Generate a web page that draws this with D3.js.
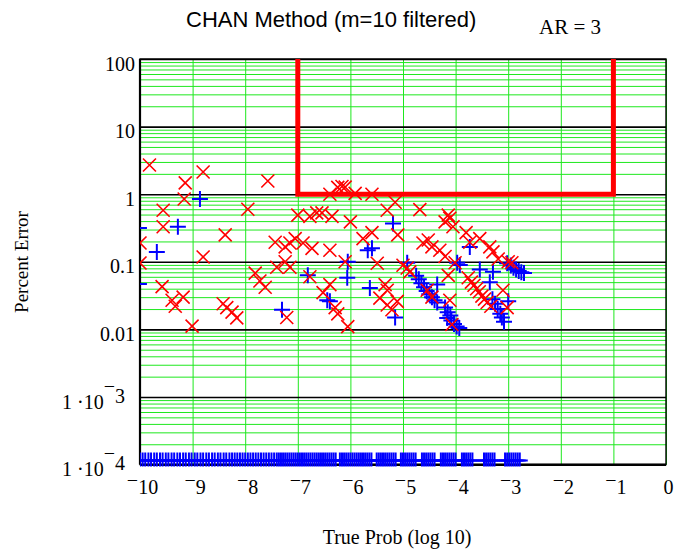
<!DOCTYPE html>
<html>
<head>
<meta charset="utf-8">
<script src="https://cdn.jsdelivr.net/npm/d3@7"></script>
<style>
  html, body { margin: 0; padding: 0; background: #fff; }
  svg { display: block; }
</style>
</head>
<body>
<div id="chart"></div>
<script>
// -------- Data --------
const xTicks = [-10, -9, -8, -7, -6, -5, -4, -3, -2, -1, 0];
const yDecades = [1e-4, 1e-3, 0.01, 0.1, 1, 10, 100];
const yTickBase = ["1 ·10", "1 ·10", "0.01", "0.1", "1", "10", "100"];
const yTickExp = ["4", "3", "", "", "", "", ""];

// red threshold box (x in log10 prob, y in percent)
const boxX = [-7, -7, -1, -1];
const boxY = [100, 1, 1, 100];

// red X markers
const redX = [
  -9.82, -8.80, -9.14, -7.57, -9.16, -9.56, -7.95, -9.56, -8.38, -10.0,
  -7.43, -8.80, -10.0, -7.40, -7.81, -7.72, -7.62, -9.58, -9.39, -9.18,
  -9.33, -9.01, -8.42, -8.35, -8.25, -8.16, -7.21,
  -6.39, -6.24, -6.16, -6.10, -5.91, -5.59, -5.15, -4.68,
  -7.00, -6.77, -6.64, -6.54, -6.35, -6.00, -5.30, -5.10, -5.59, -5.76,
  -7.05, -7.24, -7.15, -6.90, -6.73, -6.39,
  -4.62, -4.52, -4.45, -4.30, -4.14, -4.11, -4.20, -4.05, -3.80, -3.73,
  -7.24, -7.15, -6.77, -6.10, -5.49, -6.39, -6.52, -6.29, -6.24, -6.05,
  -5.34, -5.30, -5.44, -5.30, -5.21, -5.11, -5.00, -4.92, -4.87,
  -4.54, -4.45, -4.11, -4.14, -4.01, -4.07,
  -3.54, -3.35, -3.29, -3.19, -3.00, -2.93, -4.20,
  -3.76, -3.70, -3.65, -3.60, -3.55, -3.50, -3.45, -3.40, -3.33,
  -3.10, -3.02
];
const redY = [
  2.7, 2.13, 1.47, 1.57, 0.85, 0.58, 0.6, 0.33, 0.25, 0.19,
  0.195, 0.118, 0.096, 0.083, 0.068, 0.052, 0.042, 0.043, 0.027, 0.030,
  0.022, 0.0112, 0.024, 0.021, 0.018, 0.0148, 0.015,
  1.0, 1.26, 1.3, 1.27, 1.03, 1.0, 0.76, 0.59,
  0.49, 0.47, 0.53, 0.53, 0.47, 0.39, 0.58, 0.25, 0.27, 0.22,
  0.22, 0.166, 0.19, 0.19, 0.158, 0.148,
  0.19, 0.21, 0.166, 0.148, 0.49, 0.44, 0.39, 0.33, 0.27, 0.195,
  0.1, 0.083, 0.060, 0.1, 0.095, 0.046, 0.035, 0.021, 0.017, 0.011,
  0.046, 0.038, 0.029, 0.023, 0.0195, 0.026, 0.089, 0.081, 0.071,
  0.038, 0.030, 0.027, 0.063, 0.097, 0.0118,
  0.22, 0.166, 0.14, 0.11, 0.1, 0.097, 0.12,
  0.058, 0.050, 0.045, 0.040, 0.036, 0.031, 0.028, 0.025, 0.022,
  0.038, 0.021
];

// blue + markers (nonzero errors)
const blueX = [
  -8.86, -9.28, -10.02, -9.68, -10.02, -7.30, -5.19, -5.67, -5.59, -3.73,
  -6.81, -6.05, -6.06, -6.44, -6.39, -5.63, -5.15, -4.92,
  -4.75, -4.70, -4.65, -4.60, -4.55, -4.50, -4.45, -4.40, -4.35, -4.35,
  -3.97, -4.16, -4.08, -4.03, -3.98, -3.93,
  -3.02, -2.95, -2.90, -2.85, -2.80, -2.75, -2.70,
  -3.92, -3.54, -3.29, -3.35, -3.00,
  -3.30, -3.25, -3.20, -3.15, -3.12, -3.08,
  -4.20, -4.15, -4.10
];
const blueY = [
  0.85, 0.33, 0.316, 0.14, 0.047, 0.0195, 0.37, 0.148, 0.158, 0.166,
  0.063, 0.1, 0.058, 0.027, 0.026, 0.041, 0.015, 0.097,
  0.062, 0.055, 0.048, 0.042, 0.037, 0.033, 0.030, 0.027, 0.025, 0.046,
  0.097, 0.0147, 0.0135, 0.012, 0.011, 0.0105,
  0.095, 0.088, 0.082, 0.077, 0.073, 0.070, 0.068,
  0.090, 0.077, 0.071, 0.05, 0.026,
  0.028, 0.024, 0.020, 0.017, 0.015, 0.013,
  0.021, 0.018, 0.016
];

// blue + markers sitting on the floor (zero error shown at the bottom)
const floorY = 1.15e-4;
const floorX = [
  -10.00, -9.95, -9.90, -9.84, -9.79, -9.73, -9.68, -9.62, -9.57, -9.51,
  -9.46, -9.40, -9.35, -9.29, -9.24, -9.18, -9.13, -9.07, -9.02, -8.96,
  -8.91, -8.85, -8.80, -8.74, -8.69, -8.63, -8.58, -8.52, -8.47, -8.41,
  -8.36, -8.30, -8.25, -8.20, -8.15, -8.10, -8.05, -8.00, -7.95, -7.90,
  -7.85, -7.80, -7.75, -7.70, -7.65, -7.60, -7.55, -7.50, -7.45, -7.40,
  -7.36, -7.32, -7.28, -7.24, -7.20, -7.16, -7.12, -7.08, -7.04, -7.00,
  -6.96, -6.92, -6.88, -6.84, -6.80, -6.76, -6.72, -6.68, -6.64, -6.60,
  -6.56, -6.52, -6.48, -6.44, -6.40, -6.36, -6.32, -6.28, -6.20, -6.16,
  -6.12, -6.08, -6.04, -6.00, -5.96, -5.92, -5.88, -5.84, -5.80, -5.76,
  -5.72, -5.68, -5.64, -5.60, -5.50, -5.46, -5.42, -5.38, -5.34, -5.30,
  -5.26, -5.22, -5.18, -5.14, -5.04, -5.00, -4.96, -4.92, -4.88, -4.84,
  -4.80, -4.76, -4.64, -4.60, -4.56, -4.52, -4.48, -4.44, -4.40, -4.28,
  -4.24, -4.20, -4.16, -4.12, -4.08, -4.04, -4.00, -3.88, -3.84, -3.80,
  -3.76, -3.72, -3.68, -3.46, -3.42, -3.38, -3.34, -3.30, -3.26, -3.06,
  -3.02, -2.98, -2.94, -2.90, -2.86, -2.82, -2.78
];

// -------- Layout --------
const W = 676, H = 550;
const margin = { top: 59, right: 10, bottom: 85, left: 140 };
const width = 526;
const height = 405.6;

const svg = d3.select("#chart").append("svg")
  .attr("width", W)
  .attr("height", H)
  .style("background", "#fff");

const g = svg.append("g")
  .attr("transform", `translate(${margin.left},${margin.top})`);

const x = d3.scaleLinear().domain([-10, 0]).range([0, width]);
const y = d3.scaleLog().domain([1e-4, 100]).range([height, 0]);

// minor log ticks (2..9 in each decade)
const minorTicks = [];
yDecades.slice(0, -1).forEach(d => {
  [2, 3, 4, 5, 6, 7, 8, 9].forEach(k => minorTicks.push(d * k));
});

// -------- Grid --------
g.append("g")
  .attr("class", "minor-grid")
  .call(d3.axisLeft(y).tickValues(minorTicks).tickSize(-width).tickFormat(""))
  .call(s => s.select(".domain").remove())
  .call(s => s.selectAll("line").attr("stroke", "#1ee81e").attr("stroke-width", 1));

g.append("g")
  .attr("class", "x-grid")
  .attr("transform", `translate(0,${height})`)
  .call(d3.axisBottom(x).tickValues(xTicks).tickSize(-height).tickFormat(""))
  .call(s => s.select(".domain").remove())
  .call(s => s.selectAll("line").attr("stroke", "#1ee81e").attr("stroke-width", 1));

g.append("g")
  .attr("class", "major-grid")
  .call(d3.axisLeft(y).tickValues(yDecades).tickSize(-width).tickFormat(""))
  .call(s => s.select(".domain").remove())
  .call(s => s.selectAll("line").attr("stroke", "#000").attr("stroke-width", 1.6));

// frame
g.append("rect")
  .attr("x", 0).attr("y", 0)
  .attr("width", width).attr("height", height)
  .attr("fill", "none")
  .attr("stroke", "#000")
  .attr("stroke-width", 1.4);
g.append("line")
  .attr("x1", 0).attr("x2", 0).attr("y1", 0).attr("y2", height)
  .attr("stroke", "#000").attr("stroke-width", 2.2);
g.append("line")
  .attr("x1", 0).attr("x2", width).attr("y1", height).attr("y2", height)
  .attr("stroke", "#000").attr("stroke-width", 2.2);

// -------- Marks --------
svg.append("clipPath").attr("id", "plotClip")
  .append("rect")
  .attr("x", 0).attr("y", -2)
  .attr("width", width + 1).attr("height", height + 4);

const marks = g.append("g").attr("clip-path", "url(#plotClip)");

const plusPath = (cx, cy, s) => `M${cx - s},${cy}H${cx + s}M${cx},${cy - s}V${cy + s}`;
const xPath = (cx, cy, s) => `M${cx - s},${cy - s}L${cx + s},${cy + s}M${cx - s},${cy + s}L${cx + s},${cy - s}`;

const bluePts = blueX.map((v, i) => ({ x: v, y: blueY[i] }))
  .concat(floorX.map(v => ({ x: v, y: floorY })));
const redPts = redX.map((v, i) => ({ x: v, y: redY[i] }));

marks.append("g")
  .selectAll("path")
  .data(bluePts)
  .join("path")
  .attr("d", d => plusPath(x(d.x), y(d.y), 8))
  .attr("stroke", "#0000ff")
  .attr("stroke-width", 2)
  .attr("fill", "none");

// threshold box
marks.append("path")
  .datum(boxX.map((v, i) => [v, boxY[i]]))
  .attr("d", d3.line().x(d => x(d[0])).y(d => y(d[1])))
  .attr("fill", "none")
  .attr("stroke", "#ff0000")
  .attr("stroke-width", 5);

marks.append("g")
  .selectAll("path")
  .data(redPts)
  .join("path")
  .attr("d", d => xPath(x(d.x), y(d.y), 6.5))
  .attr("stroke", "#ff0000")
  .attr("stroke-width", 1.6)
  .attr("fill", "none");

// -------- Axes labels --------
const serif = "'Liberation Serif', 'Times New Roman', serif";

const xAxis = g.append("g")
  .attr("transform", `translate(0,${height})`)
  .call(d3.axisBottom(x).tickValues(xTicks).tickSize(0).tickFormat(""));
xAxis.select(".domain").remove();
xAxis.selectAll(".tick text").remove();
xAxis.selectAll(".tick").append("text")
  .attr("x", 2)
  .attr("y", 29)
  .attr("text-anchor", "middle")
  .attr("fill", "#000")
  .style("font-family", serif)
  .style("font-size", "20px")
  .each(function (d) {
    const t = d3.select(this);
    if (d < 0) {
      t.append("tspan").attr("dy", -7).text("\u2212");
      t.append("tspan").attr("dy", 7).text(String(-d));
    } else {
      t.text(String(d));
    }
  });

const yAxis = g.append("g")
  .call(d3.axisLeft(y).tickValues(yDecades).tickSize(0).tickFormat(""));
yAxis.select(".domain").remove();
yAxis.selectAll(".tick text").remove();
yAxis.selectAll(".tick").append("text")
  .attr("x", d => (yTickExp[yDecades.indexOf(d)] ? -15 : -5))
  .attr("y", 11)
  .attr("text-anchor", "end")
  .attr("fill", "#000")
  .style("font-family", serif)
  .style("font-size", "20px")
  .each(function (d) {
    const i = yDecades.indexOf(d);
    const t = d3.select(this);
    t.append("tspan").text(yTickBase[i]);
    if (yTickExp[i]) {
      t.append("tspan").attr("dy", -16).text("\u2212");
      t.append("tspan").attr("dy", 10).text(yTickExp[i]);
    }
  });

// -------- Titles --------
svg.append("text")
  .attr("x", 186)
  .attr("y", 27)
  .style("font-family", "'Liberation Sans', Arial, sans-serif")
  .style("font-size", "22px")
  .attr("fill", "#000")
  .text("CHAN Method (m=10 filtered)");

svg.append("text")
  .attr("x", 539)
  .attr("y", 34)
  .style("font-family", serif)
  .style("font-size", "21px")
  .attr("fill", "#000")
  .attr("xml:space", "preserve")
  .text("AR = 3");

svg.append("text")
  .attr("x", 397)
  .attr("y", 544)
  .attr("text-anchor", "middle")
  .style("font-family", serif)
  .style("font-size", "20px")
  .attr("fill", "#000")
  .text("True Prob (log 10)");

svg.append("text")
  .attr("transform", "translate(28,262) rotate(-90)")
  .attr("text-anchor", "middle")
  .style("font-family", serif)
  .style("font-size", "19px")
  .attr("fill", "#000")
  .text("Percent Error");
</script>
</body>
</html>
